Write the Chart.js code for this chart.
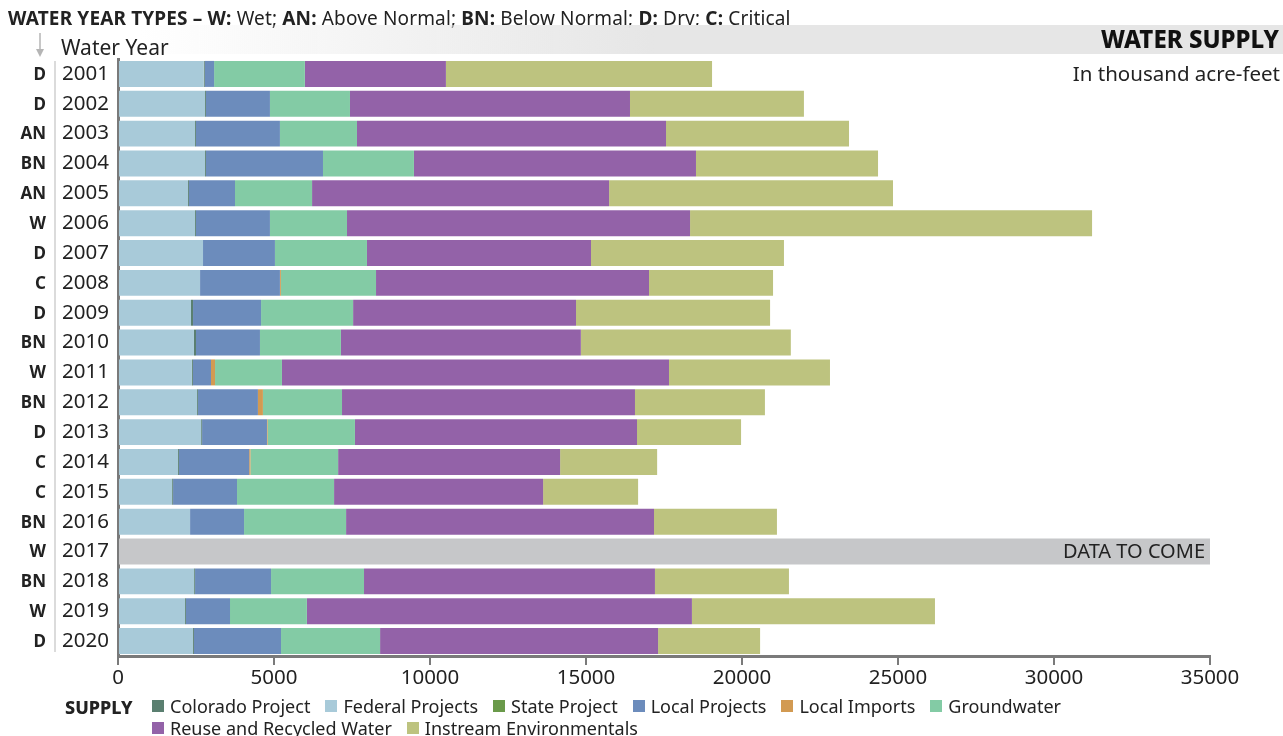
<!DOCTYPE html>
<html>
<head>
<meta charset="utf-8">
<script src="https://cdn.jsdelivr.net/npm/chart.js@4"></script>
<style>
  body { margin: 0; background: #fff; font-family: "Noto Sans", sans-serif; color: #222; }
  #wrap { position: relative; width: 1283px; height: 736px; overflow: hidden; }
  #c { position: absolute; left: 0; top: 0; }
  .abs { position: absolute; white-space: nowrap; }
  #types { left: 8px; top: 5px; font-size: 19px; letter-spacing: 0.15px; }
  #types b { font-weight: 700; }
  #band { left: 140px; top: 25px; width: 1143px; height: 29px;
          background: linear-gradient(to right, rgba(232,232,232,0), #e6e6e6 45%, #e6e6e6); }
  #title { right: 4px; top: 22px; font-size: 24px; font-weight: 800; color: #111; }
  #unit { right: 3px; top: 59px; font-size: 20.5px; }
  #wy { left: 61px; top: 33px; font-size: 21px; }
  #legend { left: 65px; top: 695px; width: 1150px; font-size: 18px; display: flex; }
  #legend .head { font-weight: 800; width: 87px; }
  #items { display: flex; flex-wrap: wrap; width: 960px; line-height: 22px; }
  #items span { display: inline-flex; align-items: center; margin-right: 15px; }
  #items i { display: inline-block; width: 12px; height: 12px; margin-right: 6px; }
</style>
</head>
<body>
<div id="wrap">
  <canvas id="c" width="1283" height="736"></canvas>
  <div class="abs" id="types"><b>WATER YEAR TYPES – W:</b> Wet; <b>AN:</b> Above Normal; <b>BN:</b> Below Normal; <b>D:</b> Dry; <b>C:</b> Critical</div>
  <div class="abs" id="band"></div>
  <div class="abs" id="title">WATER SUPPLY</div>
  <div class="abs" id="unit">In thousand acre-feet</div>
  <div class="abs" id="wy">Water Year</div>
  <div class="abs" id="legend"><div class="head">SUPPLY</div><div id="items"></div></div>
</div>
<script>
// datos (miles de acre-pies)
const years = ['2001','2002','2003','2004','2005','2006','2007','2008','2009','2010',
               '2011','2012','2013','2014','2015','2016','2017','2018','2019','2020']
const yearTypes = ['D','D','AN','BN','AN','W','D','C','D','BN','W','BN','D','C','C','BN','W','BN','W','D']

const federal   = [2750,2790,2470,2790,2245,2470,2725,2630,2340,2435,2370,2535,2665,1925,1735,2310,null,2440,2150,2405]
const colorado  = [30,30,30,30,30,30,0,0,65,65,30,30,30,30,30,0,null,30,30,30]
const stateProj = [0,0,0,0,0,0,0,0,0,0,0,0,0,0,0,0,null,0,0,0]
const localProj = [300,2050,2690,3750,1475,2370,2305,2560,2180,2050,580,1920,2080,2250,2050,1730,null,2435,1410,2790]
const imports   = [0,0,0,0,0,0,0,30,0,0,130,160,20,40,0,0,null,0,0,0]
const groundw   = [2910,2565,2470,2915,2470,2470,2950,3050,2950,2595,2145,2535,2800,2810,3110,3270,null,2980,2465,3175]
const reuse     = [4520,8975,9905,9040,9520,10995,7180,8750,7145,7690,12405,9390,9040,7115,6700,9870,null,9325,12340,8910]
const instream  = [8530,5575,5865,5835,9100,12885,6185,3975,6220,6730,5160,4165,3335,3110,3045,3940,null,4295,7790,3270]
const noData    = [null,null,null,null,null,null,null,null,null,null,null,null,null,null,null,null,35000,null,null,null]

const xTicks = [0,5000,10000,15000,20000,25000,30000,35000]

// orden de la leyenda (distinto al orden de apilado)
const legendOrder = ['Colorado Project','Federal Projects','State Project','Local Projects',
                     'Local Imports','Groundwater','Reuse and Recycled Water','Instream Environmentals']

const series = [
  {label: 'Federal Projects', data: federal, color: '#a8cad9'},
  {label: 'Colorado Project', data: colorado, color: '#5a7f70'},
  {label: 'State Project', data: stateProj, color: '#6a9a4a'},
  {label: 'Local Projects', data: localProj, color: '#6c8cbc'},
  {label: 'Local Imports', data: imports, color: '#d29a52'},
  {label: 'Groundwater', data: groundw, color: '#83cba5'},
  {label: 'Reuse and Recycled Water', data: reuse, color: '#9362a8'},
  {label: 'Instream Environmentals', data: instream, color: '#bdc37f'},
]

let datasets = series.map(s => ({
  label: s.label, data: s.data, backgroundColor: s.color,
  barPercentage: 0.87, categoryPercentage: 1.0, borderWidth: 0
}))
datasets.push({label: 'noData', data: noData, backgroundColor: '#c6c7c9',
  barPercentage: 0.87, categoryPercentage: 1.0, borderWidth: 0})

// LEYENDA HTML
let items = document.getElementById('items')
legendOrder.forEach(name => {
  let s = series.find(d => d.label === name)
  let el = document.createElement('span')
  el.innerHTML = '<i style="background:' + s.color + '"></i>' + name
  items.appendChild(el)
})

// textos extra: tipos de año, separador, flecha, DATA TO COME
const extras = {
  id: 'extras',
  afterDraw(chart) {
    const ctx = chart.ctx
    const y = chart.scales.y
    ctx.save()
    ctx.fillStyle = '#222'
    ctx.font = 'bold 17px "Noto Sans"'
    ctx.textAlign = 'right'
    ctx.textBaseline = 'middle'
    yearTypes.forEach((t, i) => {
      ctx.fillText(t, 46, y.getPixelForTick(i) + 1)
    })
    // separador
    ctx.strokeStyle = '#cfcfcf'
    ctx.lineWidth = 1.5
    ctx.beginPath()
    ctx.moveTo(55, y.top + 2)
    ctx.lineTo(55, y.bottom - 4)
    ctx.stroke()
    // flecha
    ctx.strokeStyle = '#b5b5b5'
    ctx.fillStyle = '#b5b5b5'
    ctx.beginPath()
    ctx.moveTo(40, 33)
    ctx.lineTo(40, 52)
    ctx.stroke()
    ctx.beginPath()
    ctx.moveTo(36, 49); ctx.lineTo(44, 49); ctx.lineTo(40, 57); ctx.closePath()
    ctx.fill()
    // DATA TO COME
    const meta = chart.getDatasetMeta(chart.data.datasets.length - 1)
    const bar = meta.data[16]
    ctx.fillStyle = '#222'
    ctx.font = '20px "Noto Sans"'
    ctx.textAlign = 'right'
    ctx.fillText('DATA TO COME', bar.x - 5, bar.y + 1)
    ctx.restore()
  }
}

var ctx = document.getElementById('c').getContext('2d')
var chart = new Chart(ctx, {
  type: 'bar',
  data: { labels: years, datasets: datasets },
  options: {
    indexAxis: 'y',
    responsive: false,
    animation: false,
    layout: { padding: { left: 62, right: 73, top: 59, bottom: 0 } },
    plugins: { legend: { display: false }, tooltip: { enabled: false } },
    scales: {
      x: {
        stacked: true, min: 0, max: 35000,
        afterBuildTicks: (s) => { s.ticks = xTicks.map(v => ({value: v})) },
        afterFit: (s) => { s.height = 80 },
        grid: { drawOnChartArea: false, drawTicks: true, tickLength: 9, color: '#7a7a7a', lineWidth: 2 },
        border: { color: '#7a7a7a', width: 3 },
        ticks: { color: '#222', font: { family: 'Noto Sans', size: 20.5 }, padding: 1, maxRotation: 0, autoSkip: false,
                 callback: (v) => String(v) }
      },
      y: {
        stacked: true,
        afterFit: (s) => { s.width = 56 },
        grid: { drawOnChartArea: false, drawTicks: false },
        border: { color: '#7a7a7a', width: 3 },
        ticks: { color: '#222', font: { family: 'Noto Sans', size: 20.5 }, crossAlign: 'far', padding: 0 }
      }
    }
  },
  plugins: [extras]
})
</script>
</body>
</html>
